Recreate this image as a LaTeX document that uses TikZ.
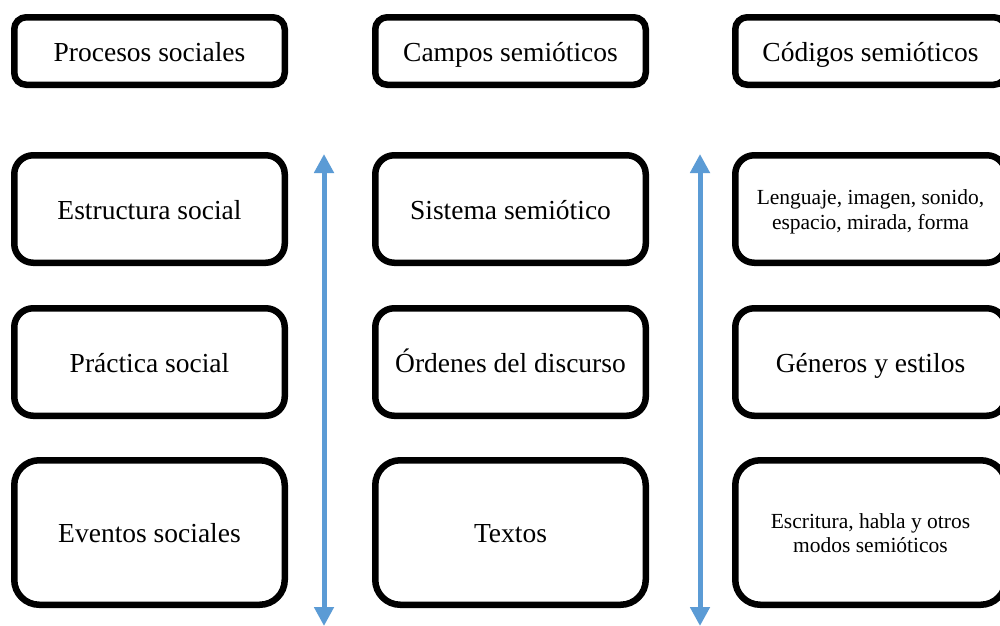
\documentclass[tikz,border=0pt]{standalone}
\usepackage{fontspec}
\setmainfont{Liberation Serif}
\usetikzlibrary{arrows.meta}
\definecolor{arrowblue}{RGB}{91,155,213}
\tikzset{
  box/.style={draw=black, line width=6.5pt, fill=white, minimum width=270.5pt, inner sep=0pt, align=center,
    font=\fontsize{27.5}{31}\selectfont},
  oneline/.style={text height=22pt, text depth=2pt},
  headbox/.style={box, oneline, minimum height=67.5pt, rounded corners=12pt},
  midbox/.style={box, minimum height=107.5pt, rounded corners=19pt},
  lowbox/.style={box, minimum height=144.5pt, rounded corners=25pt},
  smalltext/.style={inner sep=0pt, align=center, font=\fontsize{21.5}{24.5}\selectfont},
  scalearrow/.style={draw=arrowblue, line width=5pt,
    {Triangle[width=19pt,length=19pt]}-{Triangle[width=19pt,length=19pt]}}
}
\begin{document}
\begin{tikzpicture}[x=1pt,y=-1pt]
\clip (0,0) rectangle (1000,625);
\fill[white] (0,0) rectangle (1000,625);
% header row
\node[headbox] (h1) at (149.5,51) {Procesos sociales};
\node[headbox] (h2) at (510.5,51) {Campos semióticos};
\node[headbox] (h3) at (870.5,51) {Códigos semióticos};
% row 2
\node[midbox, oneline] (a1) at (149.5,209) {Estructura social};
\node[midbox, oneline] (a2) at (510.5,209) {Sistema semiótico};
\node[midbox] (a3) at (870.5,209) {};
\node[smalltext] (a3t) at (870.5,212) {Lenguaje, imagen, sonido,\\espacio, mirada, forma};
% row 3
\node[midbox, oneline] (b1) at (149.5,362) {Práctica social};
\node[midbox, oneline] (b2) at (510.5,362) {Órdenes del discurso};
\node[midbox, oneline] (b3) at (870.5,362) {Géneros y estilos};
% row 4
\node[lowbox, oneline] (c1) at (149.5,532.5) {Eventos sociales};
\node[lowbox, oneline] (c2) at (510.5,532.5) {Textos};
\node[lowbox] (c3) at (870.5,532.5) {};
\node[smalltext] (c3t) at (870.5,533) {Escritura, habla y otros\\modos semióticos};
% arrows
\coordinate (t1) at (324,154);
\coordinate (u1) at (324,626);
\coordinate (t2) at (700,154);
\coordinate (u2) at (700,626);
\draw[scalearrow] (t1) -- (u1);
\draw[scalearrow] (t2) -- (u2);
\end{tikzpicture}
\end{document}
